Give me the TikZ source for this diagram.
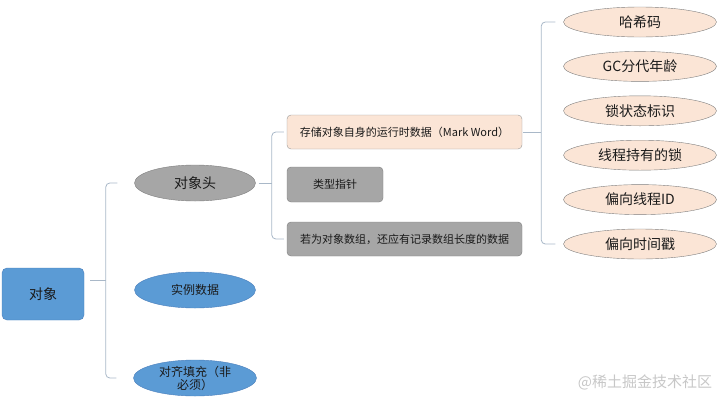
\documentclass[tikz,border=0pt]{standalone}
\usepackage{fontspec}
\setmainfont{Noto Sans CJK SC}
\usetikzlibrary{positioning}
\usetikzlibrary{shapes.geometric}
\usetikzlibrary{calc}
\definecolor{bluefill}{HTML}{5B9BD5}
\definecolor{blueline}{HTML}{4A7EBB}
\definecolor{greyfill}{HTML}{A6A6A6}
\definecolor{greyline}{HTML}{7F7F7F}
\definecolor{peachfill}{HTML}{FBE5D6}
\definecolor{braceline}{HTML}{A9B8C8}
\definecolor{inktext}{HTML}{1A1A1A}
\tikzset{
  rootbox/.style={draw=blueline, fill=bluefill, rounded corners=5pt, minimum width=82pt,
    minimum height=52pt, text=inktext, font=\fontsize{14}{16}\selectfont},
  partnode/.style={ellipse, draw=blueline, fill=bluefill, minimum width=121pt, minimum height=36pt,
    inner sep=0pt, text=inktext, font=\fontsize{12}{13}\selectfont, align=center},
  fieldbox/.style={draw=greyline, rounded corners=4pt, minimum height=34pt, text=inktext,
    font=\fontsize{11}{13}\selectfont},
  markitem/.style={ellipse, draw=greyline, fill=peachfill, minimum width=153pt, minimum height=30pt,
    inner sep=0pt, text=inktext, font=\fontsize{14}{16}\selectfont},
  brace/.style={draw=braceline, line width=0.8pt, rounded corners=4pt}
}

\begin{document}
\begin{tikzpicture}[x=1pt, y=-1pt, node distance=14pt]
  \useasboundingbox (0,0) rectangle (720,405);
  % left side
  \node [rootbox] (obj) at (43,294) {对象};
  \node [partnode, fill=greyfill, draw=greyline, font=\fontsize{14}{16}\selectfont] (head) at (195,183) {对象头};
  \node [partnode] (inst) at (195,290) {实例数据};
  \node [partnode, minimum width=123pt] (pad) at (195,378) {对齐填充（非\\必须）};
  % object header fields
  \node [fieldbox, fill=peachfill, draw=greyline!80, minimum width=235pt] (mark) at (404.5,132) {存储对象自身的运行时数据（Mark Word）};
  \node [fieldbox, fill=greyfill, minimum width=96pt, minimum height=35pt] (ptr) at (335,184.5) {类型指针};
  \node [fieldbox, fill=greyfill, minimum width=235pt] (arr) at (404.5,239) {若为对象数组，还应有记录数组长度的数据};
  % mark word contents
  \node [markitem] (hash) at (640,22) {哈希码};
  \node [markitem, below=of hash] (age) {GC分代年龄};
  \node [markitem, below=of age] (lock) {锁状态标识};
  \node [markitem, below=of lock] (owner) {线程持有的锁};
  \node [markitem, below=of owner] (tid) {偏向线程ID};
  \node [markitem, below=of tid] (stamp) {偏向时间戳};
  % brackets
  \coordinate (mid) at ($(head.west)!0.5!(pad.west)$);
  \draw [brace] ([xshift=-17pt]head.west) -| ([xshift=-28pt]mid) |- ([xshift=-17pt]pad.west);
  \draw [brace] ([xshift=-28pt]mid) -- ([xshift=-44pt]mid);
  \draw [brace] ([xshift=-3pt]mark.west) -| ([xshift=-15pt]ptr.west) |- ([xshift=-3pt]arr.west);
  \draw [brace] ([xshift=3pt]head.east) -- ([xshift=-15pt]ptr.west |- head.east);
  \draw [brace] ([xshift=-8pt]hash.west) -| ([xshift=-22pt]lock.west) |- ([xshift=-8pt]stamp.west);
  \draw [brace] ([xshift=1pt]mark.east) -- ([xshift=-22pt]lock.west |- mark.east);
  % watermark
  \node [text=black!22, font=\fontsize{15}{16}\selectfont] (mark2) at (645,382) {@稀土掘金技术社区};
\end{tikzpicture}
\end{document}
